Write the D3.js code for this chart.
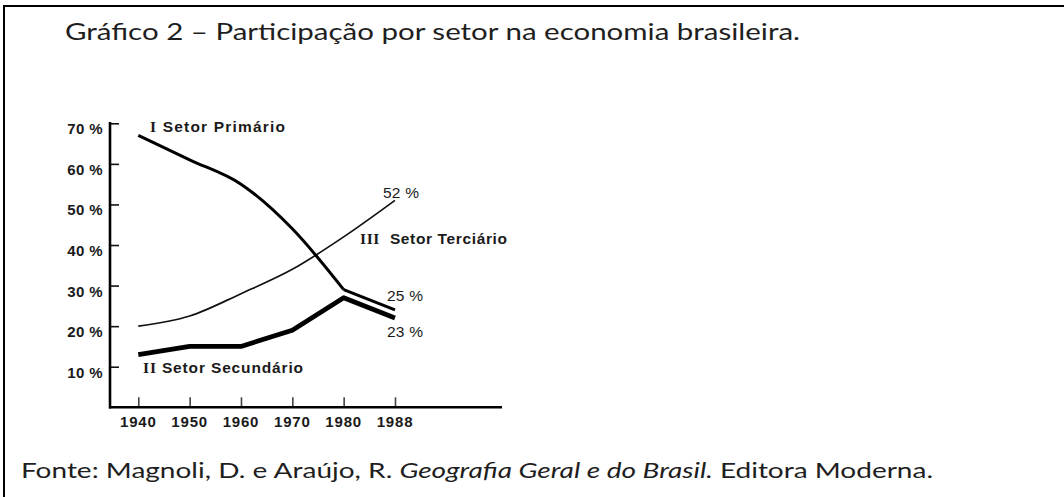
<!DOCTYPE html>
<html><head><meta charset="utf-8">
<script src="https://cdn.jsdelivr.net/npm/d3@7"></script>
<style>
body{margin:0;background:#fff;}
svg{display:block;}
</style></head>
<body><svg id="chart" width="1064" height="497"></svg>
<script>
// ---- data ----
const years = ["1940", "1950", "1960", "1970", "1980", "1988"];
const primario = [67, 61, 55, 44, 29, 24];
const secundario = [13, 15, 15, 19, 27, 22];
const terciario = [20, 22.5, 28, 34, 42, 51];
const yTicks = [10, 20, 30, 40, 50, 60, 70];
const yTickLabels = ["10 %", "20 %", "30 %", "40 %", "50 %", "60 %", "70 %"];
const endLabels = ["52 %", "25 %", "23 %"];
const seriesNames = [["I", " Setor Primário"], ["II", " Setor Secundário"], ["III", "  Setor Terciário"]];
const titleText = "Gráfico 2 – Participação por setor na economia brasileira.";
const sourceParts = ["Fonte: Magnoli, D. e Araújo, R. ", "Geografia Geral e do Brasil.", " Editora Moderna."];

const svg = d3.select("#chart");

// frame
svg.append("line").attr("x1", 4).attr("x2", 1064).attr("y1", 6).attr("y2", 6).attr("stroke", "#000").attr("stroke-width", 2);
svg.append("line").attr("x1", 4).attr("x2", 4).attr("y1", 5).attr("y2", 497).attr("stroke", "#000").attr("stroke-width", 2);

// title
svg.append("text").attr("x", 65).attr("y", 40)
  .attr("font-family", "Lato, 'Open Sans', sans-serif").attr("font-size", 24).attr("fill", "#1e1e1e")
  .attr("textLength", 735).attr("lengthAdjust", "spacingAndGlyphs")
  .text(titleText);

// footer
const src = svg.append("text").attr("x", 21).attr("y", 478)
  .attr("font-family", "Lato, 'Open Sans', sans-serif").attr("font-size", 22).attr("fill", "#1e1e1e")
  .attr("textLength", 912).attr("lengthAdjust", "spacingAndGlyphs");
src.append("tspan").text(sourceParts[0]);
src.append("tspan").attr("font-style", "italic").text(sourceParts[1]);
src.append("tspan").text(sourceParts[2]);

// scales
const x = d3.scalePoint().domain(years).range([138.3, 395]);
const y = d3.scaleLinear().domain([0, 70]).range([407.3, 123.3]);

const g = svg.append("g");
const chartFont = "'Liberation Sans', Arial, sans-serif";

// y axis
const yAxis = g.append("g").attr("transform", "translate(110,0)")
  .call(d3.axisRight(y).tickValues(yTicks).tickSize(9).tickFormat(""));
yAxis.select(".domain").remove();
yAxis.selectAll(".tick line").attr("stroke", "#111").attr("stroke-width", 1.6);
g.append("line").attr("x1", 110).attr("x2", 110).attr("y1", 122).attr("y2", 408.5)
  .attr("stroke", "#000").attr("stroke-width", 2.6);

g.selectAll(".ylab").data(yTicks).join("text").attr("class", "ylab")
  .attr("x", 103).attr("y", d => y(d) + 11)
  .attr("text-anchor", "end")
  .attr("font-family", chartFont).attr("font-weight", "bold")
  .attr("font-size", 15).attr("letter-spacing", 0.4).attr("fill", "#1a1a1a")
  .text((d, i) => yTickLabels[i]);

// x axis
const xAxis = g.append("g").attr("transform", "translate(0,407.3)")
  .call(d3.axisTop(x).tickSize(10).tickFormat(""));
xAxis.select(".domain").remove();
xAxis.selectAll(".tick line").attr("stroke", "#444").attr("stroke-width", 1.6);
g.append("line").attr("x1", 109).attr("x2", 502).attr("y1", 407.3).attr("y2", 407.3)
  .attr("stroke", "#000").attr("stroke-width", 2.6);
g.selectAll(".xlab").data(years).join("text").attr("class", "xlab")
  .attr("x", d => x(d)).attr("y", 427)
  .attr("text-anchor", "middle")
  .attr("font-family", chartFont).attr("font-weight", "bold")
  .attr("font-size", 15).attr("letter-spacing", 0.8).attr("fill", "#1a1a1a")
  .text(d => d);

// lines
const line = d3.line().x((d, i) => x(years[i])).y(d => y(d));
const lineSmooth = d3.line().x((d, i) => x(years[i])).y(d => y(d)).curve(d3.curveMonotoneX);

g.append("path").datum(terciario).attr("d", lineSmooth)
  .attr("fill", "none").attr("stroke", "#111").attr("stroke-width", 1.7);
g.append("path").datum(secundario).attr("d", line)
  .attr("fill", "none").attr("stroke", "#000").attr("stroke-width", 4.8).attr("stroke-linejoin", "round");
// primario: smooth until 1980, straight afterwards
g.append("path").datum(primario.slice(0, 5)).attr("d", lineSmooth)
  .attr("fill", "none").attr("stroke", "#000").attr("stroke-width", 3);
g.append("path").datum(primario).attr("d", d3.line().defined((d, i) => i >= 4).x((d, i) => x(years[i])).y(d => y(d)))
  .attr("fill", "none").attr("stroke", "#000").attr("stroke-width", 3);

// series labels
function seriesLabel(xp, yp, parts, len) {
  const t = g.append("text").attr("x", xp).attr("y", yp)
    .attr("font-family", chartFont).attr("font-weight", "bold").attr("font-size", 15.5)
    .attr("textLength", len).attr("lengthAdjust", "spacing").attr("fill", "#1a1a1a");
  t.append("tspan").attr("font-family", "'Liberation Serif', serif").text(parts[0]);
  t.append("tspan").attr("xml:space", "preserve").text(parts[1]);
}
seriesLabel(150, 132, seriesNames[0], 135);
seriesLabel(143, 373, seriesNames[1], 160);
seriesLabel(360, 244, seriesNames[2], 147);

// end labels
const endPos = [[383, 198], [387, 301], [387, 337]];
g.selectAll(".endlab").data(endLabels).join("text").attr("class", "endlab")
  .attr("x", (d, i) => endPos[i][0]).attr("y", (d, i) => endPos[i][1])
  .attr("font-family", chartFont).attr("font-size", 15.5)
  .attr("textLength", 36).attr("lengthAdjust", "spacing")
  .attr("fill", "#1a1a1a").text(d => d);
</script>
</body></html>
